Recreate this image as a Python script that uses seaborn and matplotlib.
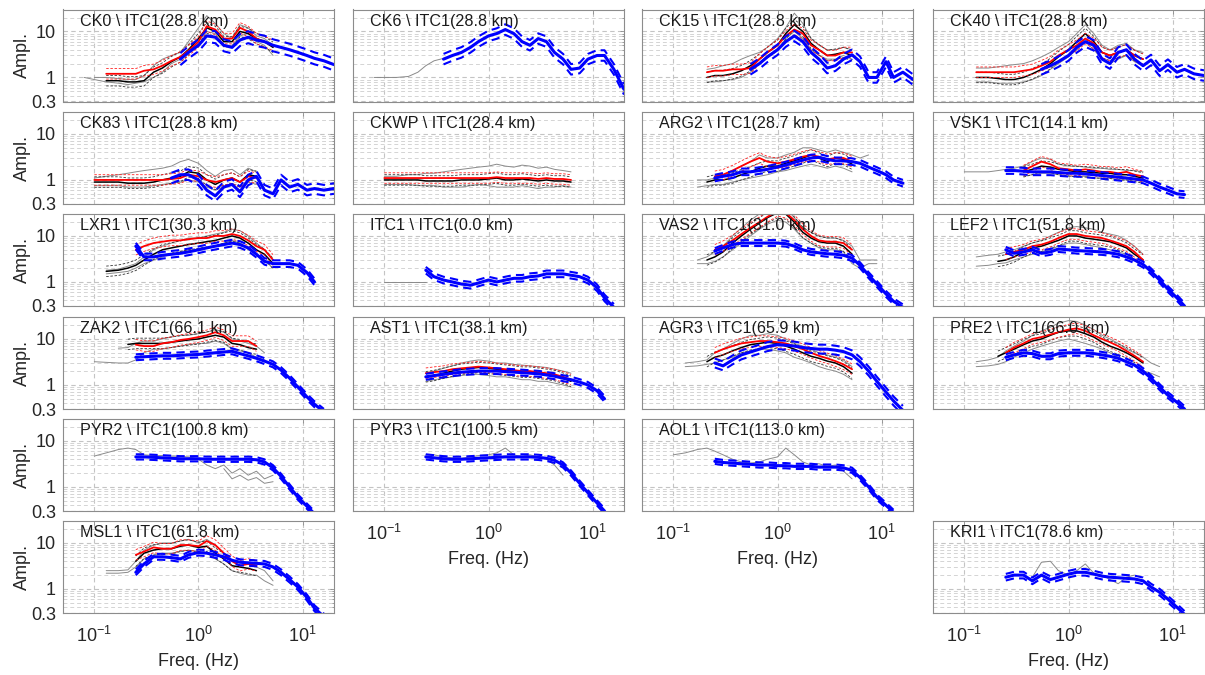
import numpy as np
import matplotlib
matplotlib.use("Agg")
import matplotlib.pyplot as plt
import seaborn as sns
from matplotlib.ticker import FixedLocator, FixedFormatter, NullFormatter, NullLocator

sns.set_theme(style="white")
plt.rcParams["font.family"] = ["Liberation Sans", "DejaVu Sans"]
plt.rcParams["mathtext.fontset"] = "custom"
plt.rcParams["mathtext.rm"] = "Liberation Sans"
plt.rcParams["mathtext.it"] = "Liberation Sans:italic"

_ = None

# common frequency grid (Hz)
F = [0.08, 0.1, 0.13, 0.17, 0.21, 0.25, 0.3, 0.37, 0.45, 0.55, 0.67, 0.8, 1.0, 1.2,
     1.45, 1.75, 2.1, 2.5, 3.0, 3.6, 4.3, 5.2, 6.2, 7.5, 9.0, 11, 13, 16, 20]

STATIONS = ["CK0", "CK6", "CK15", "CK40", "CK83", "CKWP", "ARG2", "VSK1",
            "LXR1", "ITC1", "VAS2", "LEF2", "ZAK2", "AST1", "AGR3", "PRE2",
            "PYR2", "PYR3", "AOL1", "MSL1", "KRI1"]
DIST_KM = [28.8, 28.8, 28.8, 28.8, 28.8, 28.4, 28.7, 14.1,
           30.3, 0.0, 31.0, 51.8, 66.1, 38.1, 65.9, 66.0,
           100.8, 100.5, 113.0, 61.8, 78.6]
REFERENCE = "ITC1"

# individual records (grey), upper and lower envelope examples
GRAY_A = [
    [_] + [1.0, 1.0, 0.95, 0.9, 0.9, 1.1, 1.8, 2.5, 3.0, 3.5, 6, 12, 22, 15, 9, 7, 14, 12, 8, 7, 5],
    [1.0, 1.0, 1.0, 1.05, 1.3, 1.8, 2.3, 2.6],
    [_]*4 + [1.5, 1.6, 1.8, 2, 2.5, 3, 3.5, 4.5, 7, 12, 25, 15, 7, 5, 4, 4, 4.5, 4],
    [_]*2 + [1.6, 1.6, 1.7, 1.8, 1.9, 2.0, 2.3, 2.8, 3.5, 4.5, 6, 9, 14, 9, 5, 4, 5, 5.5, 4, 3.5],
    [_] + [1.1, 1.2, 1.3, 1.4, 1.5, 1.6, 1.7, 1.8, 2.0, 2.5, 2.8, 2.3, 1.6, 1.2, 1.6, 1.7, 1.3, 1.8, 1.5],
    [_] + [1.2, 1.2, 1.3, 1.3, 1.4, 1.4, 1.5, 1.6, 1.7, 1.8, 1.9, 2.0, 2.2, 2.0, 1.9, 2.1, 2.0, 1.8, 1.9, 1.7, 1.6, 1.5],
    [_]*3 + [1.0, 1.0, 1.1, 1.3, 1.6, 2, 2.5, 3.5, 3, 3, 3.5, 4, 5, 5, 4.5, 4, 4.5, 4, 3.5, 3, 3.5],
    [_] + [1.5, 1.5, 1.5, 1.6, 1.7, 1.8, 2.0, 2.5, 3, 2.8, 2.2, 2, 2, 1.9, 1.8, 1.8, 1.7, 1.7, 1.6, 1.6, 1.5],
    [_]*2 + [1.8, 1.9, 2.2, 2.5, 3.5, 5, 6, 7, 8, 9, 9, 10, 11, 12, 14, 13, 10, 7, 5, 3],
    [_] + [1.0, 1.0, 1.0, 1.0, 1.0],
    [_]*3 + [3.0, 3.5, 4.5, 6, 10, 15, 22, 30, 40, 45, 40, 25, 15, 12, 10, 9, 9, 8, 6, 3, 3, 3],
    [_]*2 + [3.5, 3.8, 4, 4.5, 5, 6, 7, 8, 10, 12, 15, 16, 15, 14, 12, 11, 10, 8, 6, 4],
    [_]*3 + [6.3, 6.5, 8, 9, 9, 10, 11, 12, 12, 13, 14, 16, 14, 10, 9, 8, 7, 5],
    [_]*5 + [1.8, 2.0, 2.3, 2.6, 3, 3.3, 3.5, 3.3, 3, 3, 2.8, 2.7, 2.6, 2.5, 2.4, 2.2, 2.0, 1.8],
    [_]*2 + [3, 3.2, 3.5, 5, 6, 8, 10, 12, 12, 13, 12, 10, 8, 7, 6, 5, 4.5, 4, 3.5, 2.5],
    [_]*2 + [3.2, 3.5, 4, 5.5, 7, 9, 12, 15, 18, 22, 25, 24, 20, 16, 12, 10, 8, 6, 5, 4, 3, 2.5],
    [_] + [4.7, 5.5, 6.5, 7, 6.5, 5, 4.8, 4.8, 4.7, 4.6, 4.5, 4, 3, 2.5, 3, 2, 2.5, 1.8, 2.2, 1.5, 1.8],
    [_]*5 + [5, 5, 4.5, 4.3, 4.2, 4.5, 4.8, 5, 5.5, 7, 5, 4.5, 5, 4.5, 4, 3, 1.8],
    [_] + [5, 5.5, 6.5, 7, 6, 5, 4, 3.5, 3.3, 3.5, 4, 4.5, 7, 5, 3.5, 3, 3.2, 2.8, 3, 2.2, 1.5],
    [_]*2 + [2.5, 2.5, 2.6, 4, 7, 9, 10, 10, 11, 12, 10, 12, 9, 6, 4, 4, 3.5, 3, 2.5, 1.5],
    [_]*8 + [1.8, 3.8, 4, 2.5, 2.0, 2.5, 3.5, 2.2, 2.0, 1.6, 1.3, 1.8, 2.0],
]
GRAY_B = [
    [1.0, 0.9, 0.8, 0.75, 0.7, 0.75, 0.8, 1.0, 1.3, 2.0, 2.5, 3.5, 6, 10, 9, 5, 5, 8, 9, 6, 5, 3],
    [],
    [_]*4 + [0.8, 0.8, 0.85, 0.9, 1.0, 1.3, 2, 3, 4, 7, 10, 7, 4, 3, 2.5, 2.5, 3, 2.5],
    [_]*2 + [0.8, 0.8, 0.75, 0.75, 0.75, 0.8, 0.9, 1.1, 1.5, 2, 2.8, 4, 6, 4, 2.5, 2, 2.5, 3, 2.2, 1.8],
    [_] + [0.75, 0.75, 0.75, 0.7, 0.7, 0.7, 0.75, 0.8, 0.85, 0.9, 1.0, 0.9, 0.7, 0.6, 0.7, 0.8, 0.6, 0.9, 0.8],
    [_] + [0.8, 0.8, 0.8, 0.75, 0.75, 0.75, 0.7, 0.7, 0.7, 0.75, 0.8, 0.75, 0.7, 0.7, 0.7, 0.75, 0.7, 0.65, 0.7, 0.7, 0.75, 0.7],
    [_]*3 + [0.7, 0.75, 0.8, 0.8, 0.9, 1.0, 1.1, 1.2, 1.3, 1.5, 1.6, 1.8, 2, 2.2, 2, 1.8, 2, 1.8, 1.5],
    [_]*7 + [1.2, 1.3, 1.4, 1.4, 1.3, 1.2, 1.2, 1.2, 1.1, 1.1, 1.1, 1.0, 1.0, 1.0, 0.9],
    [_]*2 + [1.5, 1.6, 1.7, 2, 2.5, 3, 3.5, 4, 4.5, 5, 5, 5.5, 6, 7, 8, 7, 5, 4, 3, 2],
    [],
    [_]*3 + [2.5, 2.5, 2.8, 3.5, 5, 7, 10, 14, 18, 22, 20, 14, 9, 7, 5.5, 5, 5, 4.5, 2.5, 2, 2.5, 2.5],
    [_]*2 + [2.2, 2.3, 2.5, 2.6, 3, 3.5, 4, 4.5, 5, 6, 7, 7, 6.5, 6, 5.5, 5, 4.5, 4, 3, 2],
    [_] + [3.2, 3.1, 3.0, 3.0, 3.5, 5, 6, 6, 6.5, 7, 7.5, 8, 8, 9, 8, 6, 5.5, 5, 4, 3.5],
    [_]*5 + [1.2, 1.3, 1.4, 1.5, 1.6, 1.7, 1.7, 1.6, 1.5, 1.5, 1.4, 1.3, 1.3, 1.2, 1.2, 1.1, 1.0, 0.9],
    [_]*2 + [2.5, 2.6, 2.8, 3, 3.5, 4, 5, 5.5, 6, 6, 5.5, 5, 4, 3.5, 3, 2.5, 2.2, 2, 1.7, 1.3],
    [_]*2 + [2.5, 2.6, 2.8, 3.2, 4, 5, 6, 7, 8, 9, 10, 9, 8, 7, 6, 5, 4, 3.3, 2.6, 2, 1.8, 1.5],
    [_]*15 + [2.5, 1.5, 1.8, 1.4, 1.6, 1.2, 1.3],
    [],
    [],
    [_]*2 + [2.2, 2.2, 2.3, 3, 4.5, 5.5, 6, 6, 6.5, 7, 6.5, 6, 4.5, 3.5, 2.5, 2.2, 2, 2, 1.5, 1.2],
    [],
]
# mean observed ratio (black)
BLACK = [
    [_]*2 + [0.85, 0.85, 0.8, 0.8, 0.85, 1.3, 1.6, 2.2, 2.8, 4, 7, 12, 10, 6, 6, 10, 9, 7, 6, 4.5],
    [],
    [_]*4 + [1.0, 1.1, 1.1, 1.2, 1.4, 1.8, 2.5, 3.5, 5, 9, 14, 10, 5.5, 4, 3, 3.2, 3.5, 3],
    [_]*2 + [1.0, 1.0, 0.95, 0.9, 0.9, 1.0, 1.2, 1.5, 2, 2.8, 4, 6, 9, 6, 3.5, 3, 3.5, 4, 3, 2.5],
    [_] + [0.9, 0.9, 0.9, 0.85, 0.85, 0.85, 0.9, 1.0, 1.1, 1.2, 1.5, 1.4, 1.0, 0.8, 1.0, 1.1, 0.9, 1.3, 1.2],
    [_] + [1.0, 1.0, 1.0, 1.0, 0.95, 0.95, 0.95, 0.95, 1.0, 1.0, 1.0, 1.05, 1.1, 1.0, 1.0, 1.05, 1.0, 0.95, 1.0, 0.95, 0.95, 0.9],
    [_]*4 + [0.9, 1.0, 1.0, 1.1, 1.3, 1.5, 1.8, 2, 2, 2.3, 2.6, 3, 3.5, 3, 2.5, 3, 2.8, 2.2],
    [_]*7 + [1.5, 1.7, 2.0, 1.9, 1.7, 1.6, 1.5, 1.5, 1.45, 1.4, 1.4, 1.3, 1.3, 1.2, 1.1],
    [_]*2 + [1.7, 1.8, 2, 2.3, 3, 4, 5, 5.5, 6, 6.5, 7, 7.5, 8, 9, 10, 9, 7, 5, 4, 2.5],
    [],
    [_]*4 + [3, 3.5, 4.5, 7, 10, 14, 19, 25, 32, 30, 20, 12, 9, 7.5, 7, 7, 6, 4],
    [_]*4 + [2.8, 3, 3.5, 4.5, 5.5, 6, 7, 8, 10, 10, 9, 8.5, 8, 7.5, 6.5, 5.5, 4, 3],
    [_]*4 + [7.6, 8, 8, 8, 8, 8.5, 9, 9.5, 10, 11, 12, 11, 8, 7.5, 6.5, 6],
    [_]*5 + [1.5, 1.6, 1.8, 2.0, 2.2, 2.3, 2.4, 2.3, 2.2, 2.1, 2.0, 1.9, 1.9, 1.8, 1.7, 1.6, 1.4, 1.2],
    [_]*4 + [3.2, 4, 4.5, 5.5, 6.5, 7.5, 8, 8.5, 8, 7, 6, 5, 4.2, 3.8, 3.3, 3, 2.5, 1.8],
    [_]*4 + [4.2, 5, 6, 7.5, 9, 10, 12, 14, 15, 15, 13, 11, 8.5, 7, 6, 5, 4, 3],
    [], [], [],
    [_]*5 + [4, 6, 7, 7.5, 7.5, 8.5, 9, 8, 8.5, 6, 4.5, 3.2, 3, 2.8, 2.5],
    [],
]
# mean observed ratio, corrected (red)
RED = [
    [_]*2 + [1.2, 1.2, 1.2, 1.2, 1.4, 1.5, 1.8, 2.3, 2.8, 3.8, 6, 13, 11, 7, 7, 12, 10, 7, 6, 5],
    [],
    [_]*4 + [1.3, 1.4, 1.4, 1.5, 1.5, 1.6, 2.5, 3.5, 5, 8, 11, 9, 5, 4, 3, 3, 3.5, 3.5],
    [_]*2 + [1.3, 1.3, 1.3, 1.3, 1.3, 1.4, 1.5, 1.8, 2.2, 3, 4, 5, 7, 5.5, 3.5, 3, 3.5, 4, 3, 2.5],
    [_] + [1.0, 1.0, 1.0, 1.0, 1.0, 1.0, 1.0, 1.0, 1.05, 1.1, 1.3, 1.2, 1.0, 0.9, 1.0, 1.1, 0.9, 1.2, 1.1],
    [_] + [1.1, 1.1, 1.1, 1.1, 1.1, 1.1, 1.1, 1.1, 1.1, 1.1, 1.1, 1.1, 1.15, 1.1, 1.1, 1.1, 1.1, 1.05, 1.1, 1.05, 1.05, 1.0],
    [_]*5 + [1.2, 1.3, 1.6, 2.0, 2.5, 3, 2.5, 2.3, 2.5, 2.8, 3.2, 3.5, 3.2, 2.8, 3, 3, 2.5],
    [_]*7 + [1.6, 2.0, 2.5, 2.2, 1.8, 1.7, 1.6, 1.7, 1.6, 1.5, 1.5, 1.4, 1.5, 1.3, 1.2],
    [_]*5 + [5, 6, 7, 7.5, 8, 8, 8.5, 9, 9, 10, 10, 11, 10, 8, 6, 5, 3],
    [],
    [_]*5 + [5, 6, 8, 11, 15, 20, 26, 35, 32, 22, 14, 10, 8, 7.5, 7.5, 7, 5],
    [_]*5 + [4, 4.5, 5, 6, 6.5, 7.5, 9, 11, 11, 10, 9.5, 9, 8, 7, 6, 4.5, 3],
    [_]*5 + [7.5, 7, 7, 8, 8.5, 9.5, 10, 11, 12, 14, 12, 9, 9, 9, 7],
    [_]*5 + [1.8, 1.9, 2.0, 2.2, 2.3, 2.4, 2.5, 2.4, 2.3, 2.2, 2.1, 2.0, 2.0, 1.9, 1.8, 1.7, 1.5, 1.3],
    [_]*5 + [5, 6, 7, 8, 8.5, 9, 9, 8.5, 8, 7, 6, 5, 4.3, 3.8, 3.3, 2.8, 2.2],
    [_]*5 + [5, 6.5, 8, 10, 11, 12.5, 14, 16, 17, 15, 12, 10, 8.5, 7, 5.5, 4.3, 3.2],
    [], [], [],
    [_]*5 + [5.5, 6.5, 8, 7.5, 7.5, 9, 9, 8.5, 11, 9, 6, 4, 3.2, 3.5, 3.2],
    [],
]
# model ratio (blue)
BLUE = [
    [_]*10 + [2.5, 3.5, 5, 8, 7.5, 5, 4.5, 6.5, 7.5, 6.5, 6, 5, 4.5, 4, 3.5, 3, 2.6, 2.3, 1.9],
    [_]*7 + [2.5, 3, 3.5, 4.5, 6, 8, 9, 11, 9, 6, 5, 7, 6, 3.5, 2.5, 1.5, 1.6, 2.5, 3.0, 3.0, 1.5, 0.55],
    [_]*9 + [1.5, 2, 2.8, 4, 6, 8, 6, 3.5, 2.5, 1.6, 1.8, 2.5, 3.1, 2.2, 1.0, 1.0, 2.2, 1.0, 1.3, 0.9],
    [_]*9 + [1.5, 1.8, 2.2, 3, 4.5, 6, 5, 2.5, 2, 3.5, 4, 2.5, 1.8, 2.4, 1.4, 1.9, 1.3, 1.5, 1.2, 1.1],
    [_]*9 + [1.1, 1.3, 1.3, 1.0, 0.6, 0.45, 0.7, 0.8, 0.55, 1.0, 1.2, 0.6, 0.5, 1.0, 0.7, 0.8, 0.6, 0.65, 0.6, 0.65],
    [],
    [_]*5 + [1.1, 1.2, 1.3, 1.5, 1.5, 1.6, 1.7, 1.9, 2.1, 2.4, 2.7, 3, 3.1, 2.8, 2.6, 2.6, 2.5, 2.3, 1.9, 1.6, 1.3, 1.0, 0.85],
    [_]*5 + [1.6, 1.6, 1.55, 1.5, 1.5, 1.5, 1.45, 1.4, 1.4, 1.35, 1.3, 1.25, 1.2, 1.15, 1.1, 1.05, 1.0, 0.85, 0.7, 0.6, 0.5, 0.48],
    [_]*5 + [6, 3.5, 3.5, 3.8, 4, 4.2, 4.5, 5, 5.5, 6, 6.5, 7, 6.5, 5.5, 4, 2.8, 2.5, 2.5, 2.5, 2.3, 1.6, 1.0],
    [_]*5 + [1.8, 1.3, 1.1, 1.0, 0.9, 0.85, 0.95, 1.1, 1.0, 1.1, 1.2, 1.2, 1.3, 1.35, 1.5, 1.5, 1.5, 1.4, 1.3, 1.1, 0.75, 0.45, 0.28],
    [_]*5 + [4.7, 5.5, 6.5, 7, 7, 7, 7, 7, 6.8, 6, 5, 4.5, 4.3, 4.1, 4.0, 3.8, 3.3, 2.3, 1.4, 0.9, 0.55, 0.38, 0.28],
    [_]*5 + [5, 4.2, 4.5, 5, 4.2, 4.5, 5.2, 5, 4.8, 4.7, 4.6, 4.5, 4.3, 4, 3.5, 3, 2.4, 1.7, 1.1, 0.7, 0.45, 0.3],
    [_]*5 + [4.0, 4.1, 4.2, 4.3, 4.3, 4.4, 4.5, 4.6, 4.8, 5.0, 5.2, 5.4, 4.8, 4.3, 3.8, 3.3, 2.8, 2.1, 1.4, 0.9, 0.55, 0.38, 0.26],
    [_]*5 + [1.5, 1.6, 1.7, 1.8, 1.9, 1.95, 2.0, 2.0, 2.0, 1.95, 1.9, 1.85, 1.8, 1.75, 1.65, 1.55, 1.4, 1.3, 1.15, 1.0, 0.75, 0.5],
    [_]*5 + [3, 2.6, 3.5, 4.5, 5.2, 6, 6.8, 7.5, 7.3, 7, 6.5, 6.2, 6, 6, 5.7, 5.3, 4.5, 3.2, 2, 1.2, 0.7, 0.45, 0.28],
    [_]*5 + [4, 4.5, 5, 4.8, 4.2, 4.2, 4.8, 5, 5, 5, 4.8, 4.5, 4.2, 3.8, 3.2, 2.7, 2, 1.4, 0.9, 0.6, 0.42, 0.3],
    [_]*5 + [4.5, 4.5, 4.4, 4.3, 4.2, 4.1, 4.1, 4.1, 4.0, 4.0, 4.0, 4.0, 4.0, 4.0, 3.9, 3.5, 2.6, 1.7, 1.0, 0.6, 0.38, 0.26],
    [_]*5 + [4.5, 4.3, 4.1, 4.0, 4.0, 4.1, 4.2, 4.3, 4.4, 4.5, 4.5, 4.5, 4.5, 4.4, 4.2, 3.8, 3.0, 2.0, 1.2, 0.75, 0.45, 0.3],
    [_]*5 + [3.6, 3.4, 3.3, 3.2, 3.1, 3.0, 3.0, 2.9, 2.9, 2.8, 2.8, 2.8, 2.7, 2.7, 2.7, 2.6, 2.3, 1.6, 1.0, 0.6, 0.4, 0.28],
    [_]*5 + [2.3, 3.5, 5, 5, 4.8, 4.5, 5.5, 6.2, 6, 5.5, 5, 4.2, 3.8, 3.7, 3.6, 3.5, 3.0, 2.3, 1.6, 1.1, 0.65, 0.38, 0.25],
    [_]*5 + [1.8, 2.0, 2.0, 1.5, 2.0, 1.6, 1.8, 2.1, 2.3, 2.3, 2.1, 1.9, 1.8, 1.75, 1.7, 1.65, 1.5, 1.1, 0.85, 0.6, 0.4, 0.28],
]
# multiplicative one-sigma factors
BLUE_SIGMA = [1.35, 1.3, 1.3, 1.3, 1.3, 1.18, 1.18, 1.18, 1.18, 1.18, 1.16,
              1.16, 1.16, 1.16, 1.25, 1.16, 1.14, 1.14, 1.14, 1.16, 1.18]
OBS_SIGMA = [1.3] * len(STATIONS)

# ---------------- layout (pixels of a 1205x675 canvas) ----------------
W, H = 1205, 675
COL_LEFT = [63, 353, 642, 933]
ROW_TOP = [9.5, 112, 214, 317, 419, 521]
AX_W, AX_H = 271, 92
PANEL_POS = [(0, 0), (0, 1), (0, 2), (0, 3), (1, 0), (1, 1), (1, 2), (1, 3),
             (2, 0), (2, 1), (2, 2), (2, 3), (3, 0), (3, 1), (3, 2), (3, 3),
             (4, 0), (4, 1), (4, 2), (5, 0), (5, 3)]
XLABEL_PANELS = {"PYR3", "AOL1", "MSL1", "KRI1"}

fig = plt.figure(figsize=(W / 100, H / 100), dpi=100)
freq = np.array(F, dtype=float)


def full(vals):
    v = [np.nan if x is None else x for x in vals]
    v = v + [np.nan] * (len(F) - len(v))
    return np.array(v, dtype=float)


TXT = "#262626"
EDGE = "#8c8c8c"
GRID = "#c4c4c4"

for i, name in enumerate(STATIONS):
    r, c = PANEL_POS[i]
    left = COL_LEFT[c] / W
    bottom = 1 - (ROW_TOP[r] + AX_H) / H
    ax = fig.add_axes([left, bottom, AX_W / W, AX_H / H])
    ax.set_xscale("log")
    ax.set_yscale("log")
    ax.set_xlim(0.05, 20)
    ax.set_ylim(0.3, 30)

    for g in (GRAY_A[i], GRAY_B[i]):
        if g:
            sns.lineplot(x=freq, y=full(g), ax=ax, color="#8a8a8a", lw=0.7, legend=False)
    s = OBS_SIGMA[i]
    if BLACK[i]:
        b = full(BLACK[i])
        for band in (b * s, b / s):
            sns.lineplot(x=freq, y=band, ax=ax, color="#333333", lw=0.6,
                         linestyle=(0, (3, 2)), legend=False)
        sns.lineplot(x=freq, y=b, ax=ax, color="black", lw=1.1, legend=False)
    if RED[i]:
        rd = full(RED[i])
        for band in (rd * s, rd / s):
            sns.lineplot(x=freq, y=band, ax=ax, color="#ff2020", lw=0.6,
                         linestyle=(0, (3, 2)), legend=False)
        sns.lineplot(x=freq, y=rd, ax=ax, color="#ff0000", lw=1.3, legend=False)
    if BLUE[i]:
        bl = full(BLUE[i])
        sb = BLUE_SIGMA[i]
        for band in (bl * sb, bl / sb):
            sns.lineplot(x=freq, y=band, ax=ax, color="#0000ff", lw=1.5,
                         linestyle=(0, (4, 2.5)), legend=False)
        sns.lineplot(x=freq, y=bl, ax=ax, color="#0000ff", lw=2.2, legend=False)

    ax.set_xlim(0.05, 20)
    ax.set_ylim(0.3, 30)

    # grid
    ax.xaxis.set_major_locator(FixedLocator([0.1, 1, 10]))
    ax.xaxis.set_minor_locator(NullLocator())
    ax.yaxis.set_major_locator(FixedLocator([0.3, 1, 10]))
    ax.yaxis.set_minor_locator(FixedLocator([0.4, 0.5, 0.6, 0.7, 0.8, 0.9, 2, 3, 4, 5, 6, 7, 8, 9, 20]))
    ax.grid(True, which="major", axis="both", color=GRID, lw=0.8, linestyle=(0, (4, 3)))
    ax.grid(True, which="minor", axis="y", color="#d4d4d4", lw=0.7, linestyle=(0, (4, 3)))
    ax.set_axisbelow(True)

    ax.tick_params(which="both", direction="in", color=EDGE, length=3, width=0.6,
                   top=True, right=True, labelcolor=TXT, labelsize=13, pad=5)
    ax.tick_params(axis="x", pad=9)
    ax.tick_params(which="minor", length=1.5)
    for sp in ax.spines.values():
        sp.set_color(EDGE)
        sp.set_linewidth(0.8)

    ax.yaxis.set_minor_formatter(NullFormatter())
    if c == 0:
        ax.yaxis.set_major_formatter(FixedFormatter(["0.3", "1", "10"]))
        ax.set_ylabel("Ampl.", fontsize=13, color=TXT)
        ax.yaxis.set_label_coords(-0.12, 0.5)
    else:
        ax.tick_params(labelleft=False)
        ax.set_ylabel("")

    if name in XLABEL_PANELS:
        ax.xaxis.set_major_formatter(FixedFormatter([r"$\mathdefault{10^{-1}}$",
                                                     r"$\mathdefault{10^{0}}$",
                                                     r"$\mathdefault{10^{1}}$"]))
        ax.set_xlabel("Freq. (Hz)", fontsize=13, color=TXT)
        ax.xaxis.set_label_coords(0.5, -0.44)
    else:
        ax.tick_params(labelbottom=False)
        ax.set_xlabel("")

    ax.text(0.063, 0.87, f"{name} \\ {REFERENCE}({DIST_KM[i]:.1f} km)",
            transform=ax.transAxes, fontsize=11.6, color="#1a1a1a",
            ha="left", va="center")

fig.savefig("out.png", dpi=100, facecolor="white")
